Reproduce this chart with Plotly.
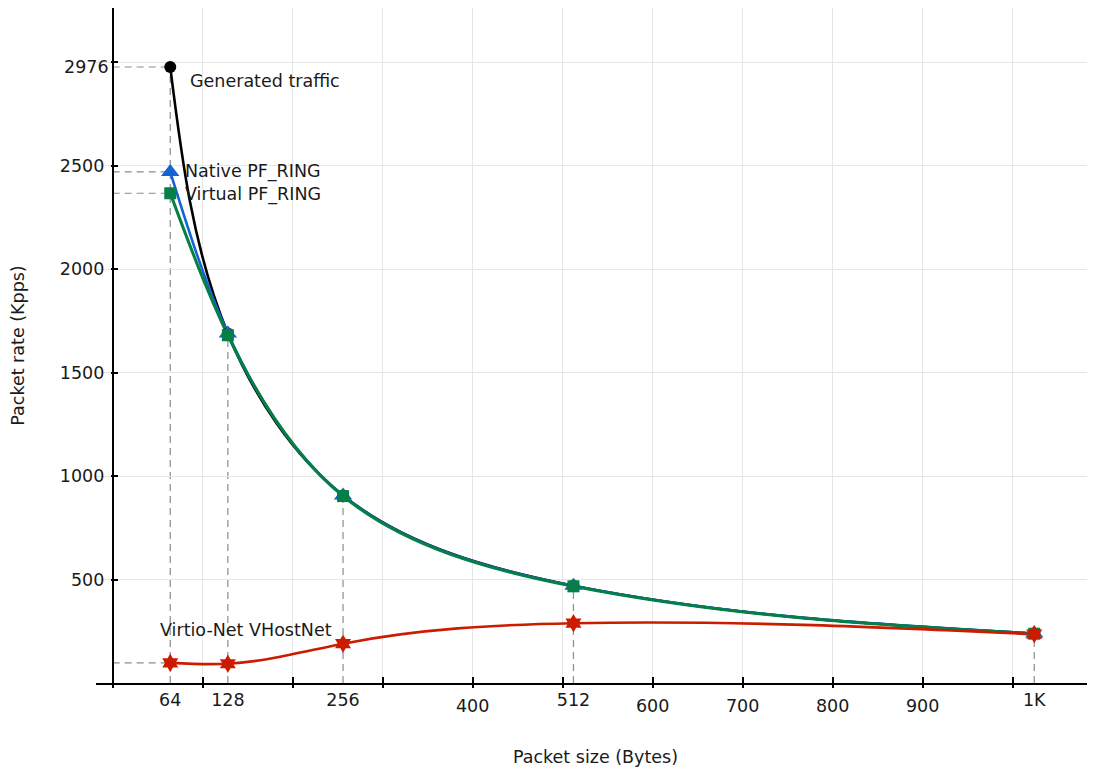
import numpy as np
import plotly.graph_objects as go

# ---------------- data ----------------
packet_sizes = [64, 128, 256, 512, 1024]
generated_traffic = [2976, 1689, 906, 470, 239]
native_pf_ring = [2469, 1689, 906, 470, 239]
virtual_pf_ring = [2366, 1680, 903, 467, 238]
virtio_vhostnet = [97, 93, 190, 289, 236]

series_names = ["Generated traffic", "Native PF_RING", "Virtual PF_RING", "Virtio-Net VHostNet"]

x_grid_vals = [0, 100, 200, 300, 400, 500, 600, 700, 800, 900, 1000]
x_grid_text = ["", "", "", "", "400", "", "600", "700", "800", "900", ""]
x_size_text = ["64", "128", "256", "512", "1K"]
y_grid_vals = [500, 1000, 1500, 2000, 2500, 3000]
y_grid_text = ["500", "1000", "1500", "2000", "2500", ""]
y_peak_vals = [2976]
y_peak_text = ["2976"]

# ---------------- style ----------------
FONT = "DejaVu Sans"
FS = 17.5
TXT = "#1a1a1a"
GRID = "#e6e6e6"
DROP = "#8c8c8c"
FIG_W, FIG_H = 1087, 759
MARGIN = dict(l=88, r=0, t=0, b=84)
X_RANGE = [-18.5, 1091.5]
Y_RANGE = [0, 3261]
Y_POS = (0 - X_RANGE[0]) / (X_RANGE[1] - X_RANGE[0])
PX_X = (FIG_W - MARGIN["l"] - MARGIN["r"]) / (X_RANGE[1] - X_RANGE[0])
PX_Y = (FIG_H - MARGIN["t"] - MARGIN["b"]) / (Y_RANGE[1] - Y_RANGE[0])

styles = [
    dict(color="#000000", symbol="circle", size=12, width=2.6),
    dict(color="#1562d2", symbol="triangle-up", size=16, width=2.6),
    dict(color="#067f46", symbol="square", size=12, width=3.0),
    dict(color="#cc1c00", symbol="hexagram", size=14, width=2.6),
]
all_series = [generated_traffic, native_pf_ring, virtual_pf_ring, virtio_vhostnet]


def natural_derivs(t, v):
    n = len(t)
    h = np.diff(t)
    A = np.zeros((n, n))
    rhs = np.zeros(n)
    A[0, 0] = 1.0
    A[-1, -1] = 1.0
    for i in range(1, n - 1):
        A[i, i - 1] = h[i - 1]
        A[i, i] = 2 * (h[i - 1] + h[i])
        A[i, i + 1] = h[i]
        rhs[i] = 6 * ((v[i + 1] - v[i]) / h[i] - (v[i] - v[i - 1]) / h[i - 1])
    M = np.linalg.solve(A, rhs)
    d = np.zeros(n)
    for i in range(n - 1):
        d[i] = (v[i + 1] - v[i]) / h[i] - h[i] * (2 * M[i] + M[i + 1]) / 6
    d[-1] = (v[-1] - v[-2]) / h[-1] + h[-1] * (M[-2] + 2 * M[-1]) / 6
    return d


def spline_path(xs, ys):
    """Parametric natural cubic spline (chord-length in screen space), as cubic Bezier segments."""
    xs = np.asarray(xs, float)
    ys = np.asarray(ys, float)
    seg = np.hypot(np.diff(xs) * PX_X, np.diff(ys) * PX_Y)
    t = np.concatenate([[0.0], np.cumsum(seg)])
    dx = natural_derivs(t, xs)
    dy = natural_derivs(t, ys)
    p = f"M {xs[0]:.4f},{ys[0]:.4f}"
    for i in range(len(xs) - 1):
        h = t[i + 1] - t[i]
        c1 = (xs[i] + dx[i] * h / 3, ys[i] + dy[i] * h / 3)
        c2 = (xs[i + 1] - dx[i + 1] * h / 3, ys[i + 1] - dy[i + 1] * h / 3)
        p += (f" C {c1[0]:.4f},{c1[1]:.4f} {c2[0]:.4f},{c2[1]:.4f}"
              f" {xs[i + 1]:.4f},{ys[i + 1]:.4f}")
    return p


fig = go.Figure()
for name, vals, st in zip(series_names, all_series, styles):
    fig.add_trace(go.Scatter(
        x=packet_sizes, y=vals, name=name, mode="markers",
        marker=dict(color=st["color"], symbol=st["symbol"], size=st["size"], line=dict(width=0)),
        showlegend=False, hoverinfo="x+y+name",
    ))

# invisible helpers so that the overlay axes (extra tick labels / crossing ticks) get drawn
for xa, ya in [("x2", "y"), ("x3", "y"), ("x", "y2"), ("x", "y3")]:
    fig.add_trace(go.Scatter(x=[packet_sizes[0]], y=[generated_traffic[0]], xaxis=xa, yaxis=ya,
                             mode="markers", marker=dict(opacity=0), hoverinfo="skip",
                             showlegend=False))

shapes = []
# drop lines (dashed guides), derived from the data
for i, xv in enumerate(packet_sizes):
    top = max(s[i] for s in all_series)
    shapes.append(dict(type="line", xref="x", yref="y", x0=xv, x1=xv, y0=0, y1=top,
                       line=dict(color=DROP, width=1.2, dash="7px,5px"), layer="below"))
for s in all_series:
    shapes.append(dict(type="line", xref="x", yref="y", x0=0, x1=packet_sizes[0], y0=s[0], y1=s[0],
                       line=dict(color=DROP, width=1.2, dash="7px,5px"), layer="below"))
# smooth series curves
for vals, st in zip(all_series, styles):
    shapes.append(dict(type="path", xref="x", yref="y", path=spline_path(packet_sizes, vals),
                       line=dict(color=st["color"], width=st["width"]),
                       fillcolor="rgba(0,0,0,0)", layer="between"))

# series labels
label_shifts = [(17.5, -14), (12.5, 0), (12.5, -1), (-12.5, 32.5)]
annotations = []
for name, vals, (dx, dy) in zip(series_names, all_series, label_shifts):
    annotations.append(dict(x=packet_sizes[0], y=vals[0], xref="x", yref="y", text=name,
                            showarrow=False, xanchor="left", yanchor="middle",
                            xshift=dx, yshift=dy, font=dict(family=FONT, size=FS, color=TXT)))

axis_font = dict(family=FONT, size=FS, color=TXT)

fig.update_layout(
    width=FIG_W, height=FIG_H,
    margin=MARGIN,
    paper_bgcolor="white", plot_bgcolor="white",
    font=axis_font,
    shapes=shapes, annotations=annotations,
    xaxis=dict(range=X_RANGE, tickmode="array", tickvals=x_grid_vals, ticktext=x_grid_text,
               ticks="inside", ticklen=6, tickwidth=1.5, tickcolor="black",
               showline=True, linecolor="black", linewidth=1.6,
               showgrid=True, gridcolor=GRID, gridwidth=1, zeroline=False,
               tickfont=axis_font, ticklabelstandoff=6,
               title=dict(text="Packet size (Bytes)", font=axis_font, standoff=36),
               automargin=False),
    xaxis2=dict(range=X_RANGE, overlaying="x", anchor="y", side="bottom",
                tickmode="array", tickvals=packet_sizes, ticktext=x_size_text,
                ticks="", showline=False, showgrid=False, zeroline=False,
                tickfont=axis_font, ticklabelstandoff=4, automargin=False),
    xaxis3=dict(range=X_RANGE, overlaying="x", anchor="y", side="bottom",
                tickmode="array", tickvals=x_grid_vals, showticklabels=False,
                ticks="outside", ticklen=4, tickwidth=1.5, tickcolor="black",
                showline=False, showgrid=False, zeroline=False, automargin=False),
    yaxis=dict(range=Y_RANGE, anchor="free", position=Y_POS,
               tickmode="array", tickvals=y_grid_vals, ticktext=y_grid_text,
               ticks="inside", ticklen=5, tickwidth=1.5, tickcolor="black",
               showline=True, linecolor="black", linewidth=1.6,
               showgrid=True, gridcolor=GRID, gridwidth=1, zeroline=False,
               tickfont=axis_font, ticklabelstandoff=4,
               title=dict(text="Packet rate (Kpps)", font=axis_font, standoff=30),
               automargin=False),
    yaxis2=dict(range=Y_RANGE, overlaying="y", anchor="free", position=Y_POS,
                tickmode="array", tickvals=y_peak_vals, ticktext=y_peak_text,
                ticks="", showline=False, showgrid=False, zeroline=False,
                tickfont=axis_font, ticklabelstandoff=4, automargin=False),
    yaxis3=dict(range=Y_RANGE, overlaying="y", anchor="free", position=Y_POS,
                tickmode="array", tickvals=y_grid_vals, showticklabels=False,
                ticks="outside", ticklen=2, tickwidth=1.5, tickcolor="black",
                showline=False, showgrid=False, zeroline=False, automargin=False),
)

fig.write_html("out.html")
